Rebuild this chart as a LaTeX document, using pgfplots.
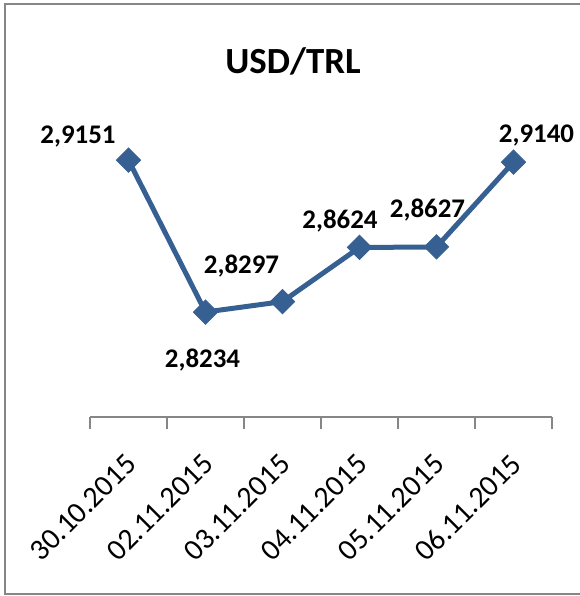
\documentclass[border=0pt]{standalone}
\usepackage{pgfplots}
\usepackage{pgfplotstable}
\pgfplotsset{compat=1.18}
\usepackage{fontspec}
\setmainfont{Carlito}
\definecolor{serie}{HTML}{376092}
\definecolor{axgray}{HTML}{868686}
\pgfplotstableread{
x y dx dy lab
1 2.9151 -50.5 17 2,9151
2 2.8234 -3 -55 2,8234
3 2.8297 -41 28.6 2,8297
4 2.8624 -19.5 19.4 2,8624
5 2.8627 -9 29 2,8627
6 2.9140 23 20 2,9140
}\data
\begin{document}
\begin{tikzpicture}
\useasboundingbox (0,0) rectangle (580bp,596bp);
\draw[axgray, line width=1.8bp] (5bp,2bp) rectangle (590bp,592bp);
\node[anchor=base] at (293bp,522bp) {\fontsize{37}{40}\selectfont\bfseries USD/TRL};
\begin{axis}[
  at={(90bp,179bp)}, anchor=south west,
  scale only axis, width=462bp, height=298bp,
  xmin=0.5, xmax=6.5, ymin=2.76, ymax=2.94,
  axis x line*=bottom, axis y line=none,
  x axis line style={axgray, line width=1.3bp},
  xtick={1,...,6},
  xticklabels={30.10.2015,02.11.2015,03.11.2015,04.11.2015,05.11.2015,06.11.2015},
  minor xtick={0.5,1.5,...,6.5},
  major tick length=0pt, minor tick length=12bp,
  tick align=outside,
  minor tick style={axgray, line width=1.3bp},
  xticklabel style={font=\fontsize{30}{33}\selectfont, xshift=5bp, yshift=-40bp, rotate=45, anchor=east},
  clip=false,
]
\addplot[serie, line width=5bp, mark=square*, mark size=8.5bp,
  mark options={rotate=45, fill=serie, draw=serie, line width=1pt},
  visualization depends on={\thisrow{dx} \as \dx},
  visualization depends on={\thisrow{dy} \as \dy},
  point meta=explicit symbolic,
  nodes near coords,
  every node near coord/.append style={anchor=base, xshift=\dx bp, yshift=\dy bp,
    font=\fontsize{27}{30}\selectfont\bfseries, text=black, inner sep=0pt}
] table[x=x, y=y, meta=lab] {\data};
\end{axis}
\end{tikzpicture}
\end{document}
